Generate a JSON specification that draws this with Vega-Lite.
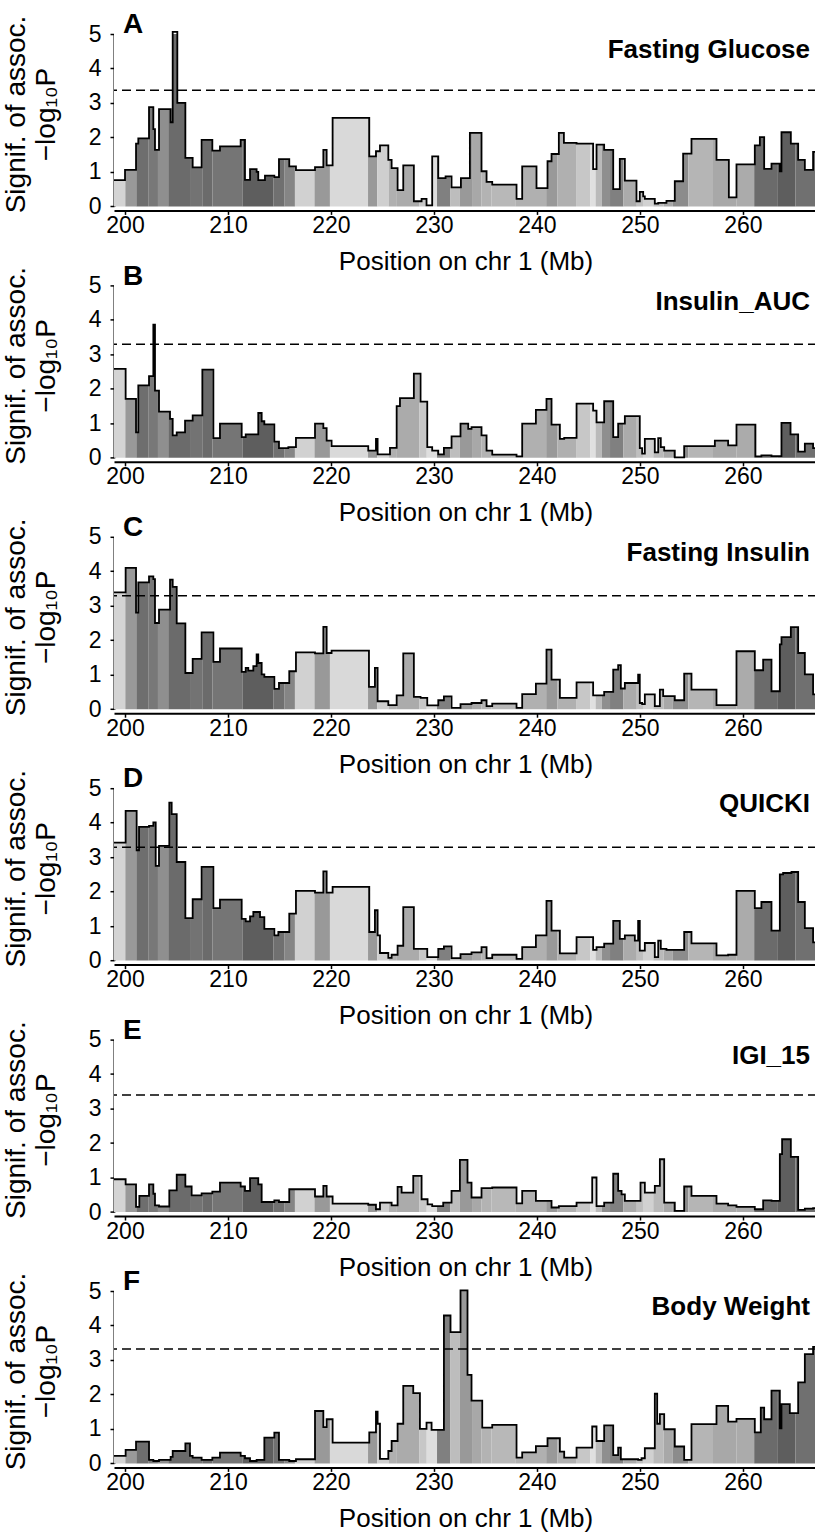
{
  "$schema": "https://vega.github.io/schema/vega-lite/v6.json",
  "background": "white",
  "padding": {"left": 1, "top": 11, "right": 3, "bottom": 3},
  "config": {
    "font": "Liberation Sans",
    "view": {"stroke": null},
    "axis": {"grid": false, "zindex": 1, "labelOverlap": false, "domainColor": "black", "tickColor": "black", "labelColor": "black", "titleColor": "black", "labelFont": "Liberation Sans", "titleFont": "Liberation Sans", "labelFontSize": 23, "titleFontSize": 26, "titleFontWeight": "normal", "tickSize": 4, "domainWidth": 2, "tickWidth": 1.5},
    "axisY": {"titleFontSize": 28},
    "title": {"anchor": "start", "frame": "group", "fontSize": 28, "fontWeight": "bold", "font": "Liberation Sans", "color": "black", "offset": -24, "baseline": "alphabetic", "dx": 9}
  },
  "datasets": {
    "panels": [
      {"p": "A", "trait": "Fasting Glucose", "thr": 3.37},
      {"p": "B", "trait": "Insulin_AUC", "thr": 3.29},
      {"p": "C", "trait": "Fasting Insulin", "thr": 3.29},
      {"p": "D", "trait": "QUICKI", "thr": 3.29},
      {"p": "E", "trait": "IGI_15", "thr": 3.39},
      {"p": "F", "trait": "Body Weight", "thr": 3.32}
    ],
    "bands": [
      {"x": 198.93, "x2": 200.03, "shade": 17}, {"x": 200.03, "x2": 201.1, "shade": 40}, {"x": 201.1, "x2": 202.3, "shade": 57}, {"x": 202.3, "x2": 203.2, "shade": 53}, {"x": 203.2, "x2": 204.2, "shade": 44}, {"x": 204.2, "x2": 206.4, "shade": 58}, {"x": 206.4, "x2": 207.5, "shade": 55}, {"x": 207.5, "x2": 208.5, "shade": 58}, {"x": 208.5, "x2": 211.4, "shade": 54}, {"x": 211.4, "x2": 214.4, "shade": 63}, {"x": 214.4, "x2": 215.5, "shade": 56}, {"x": 215.5, "x2": 216.5, "shade": 48}, {"x": 216.5, "x2": 218.4, "shade": 18}, {"x": 218.4, "x2": 219.9, "shade": 40}, {"x": 219.9, "x2": 223.6, "shade": 15}, {"x": 223.6, "x2": 224.5, "shade": 40}, {"x": 224.5, "x2": 225.6, "shade": 19}, {"x": 225.6, "x2": 226.4, "shade": 31}, {"x": 226.4, "x2": 228.6, "shade": 33}, {"x": 228.6, "x2": 229.3, "shade": 22}, {"x": 229.3, "x2": 230.3, "shade": 13}, {"x": 230.3, "x2": 231.6, "shade": 50}, {"x": 231.6, "x2": 232.5, "shade": 26}, {"x": 232.5, "x2": 233.7, "shade": 40}, {"x": 233.7, "x2": 234.6, "shade": 34}, {"x": 234.6, "x2": 235.6, "shade": 30}, {"x": 235.6, "x2": 237.9, "shade": 28}, {"x": 237.9, "x2": 240.9, "shade": 31}, {"x": 240.9, "x2": 242.0, "shade": 40}, {"x": 242.0, "x2": 243.8, "shade": 31}, {"x": 243.8, "x2": 245.2, "shade": 22}, {"x": 245.2, "x2": 245.7, "shade": 12}, {"x": 245.7, "x2": 246.3, "shade": 27}, {"x": 246.3, "x2": 247.1, "shade": 44}, {"x": 247.1, "x2": 248.4, "shade": 50}, {"x": 248.4, "x2": 249.7, "shade": 33}, {"x": 249.7, "x2": 250.3, "shade": 25}, {"x": 250.3, "x2": 251.3, "shade": 18}, {"x": 251.3, "x2": 252.3, "shade": 27}, {"x": 252.3, "x2": 253.2, "shade": 34}, {"x": 253.2, "x2": 254.7, "shade": 45}, {"x": 254.7, "x2": 257.1, "shade": 29}, {"x": 257.1, "x2": 259.4, "shade": 34}, {"x": 259.4, "x2": 261.1, "shade": 33}, {"x": 261.1, "x2": 263.4, "shade": 58}, {"x": 263.4, "x2": 265.1, "shade": 63}, {"x": 265.1, "x2": 267.2, "shade": 56}
    ],
    "steps": [
      {"p":"A","x":198.93,"y":0.76},{"p":"A","x":200.0,"y":1.06},{"p":"A","x":201.07,"y":1.82},{"p":"A","x":201.29,"y":1.97},{"p":"A","x":202.33,"y":2.88},{"p":"A","x":202.75,"y":2.24},{"p":"A","x":202.91,"y":1.64},{"p":"A","x":203.3,"y":2.82},{"p":"A","x":204.43,"y":2.44},{"p":"A","x":204.63,"y":5.06},{"p":"A","x":205.08,"y":3.0},{"p":"A","x":205.86,"y":1.41},{"p":"A","x":206.57,"y":1.13},{"p":"A","x":207.44,"y":1.93},{"p":"A","x":208.48,"y":1.62},{"p":"A","x":209.22,"y":1.74},{"p":"A","x":211.23,"y":1.93},{"p":"A","x":211.65,"y":0.77},{"p":"A","x":212.14,"y":1.08},{"p":"A","x":212.78,"y":1.0},{"p":"A","x":212.94,"y":0.76},{"p":"A","x":213.59,"y":0.89},{"p":"A","x":214.5,"y":0.85},{"p":"A","x":214.95,"y":1.37},{"p":"A","x":215.95,"y":1.16},{"p":"A","x":216.6,"y":1.05},{"p":"A","x":218.45,"y":1.14},{"p":"A","x":219.26,"y":1.64},{"p":"A","x":219.58,"y":1.19},{"p":"A","x":220.16,"y":2.57},{"p":"A","x":223.72,"y":1.45},{"p":"A","x":224.37,"y":1.6},{"p":"A","x":224.76,"y":1.77},{"p":"A","x":225.57,"y":1.35},{"p":"A","x":225.89,"y":1.11},{"p":"A","x":226.47,"y":0.47},{"p":"A","x":227.02,"y":1.19},{"p":"A","x":228.05,"y":0.15},{"p":"A","x":228.8,"y":0.22},{"p":"A","x":229.28,"y":0.03},{"p":"A","x":229.83,"y":1.45},{"p":"A","x":230.42,"y":0.82},{"p":"A","x":231.13,"y":0.87},{"p":"A","x":231.71,"y":0.55},{"p":"A","x":232.62,"y":0.82},{"p":"A","x":233.49,"y":2.13},{"p":"A","x":234.62,"y":1.02},{"p":"A","x":235.11,"y":0.71},{"p":"A","x":235.66,"y":0.63},{"p":"A","x":238.02,"y":0.22},{"p":"A","x":238.57,"y":1.16},{"p":"A","x":239.96,"y":0.53},{"p":"A","x":241.03,"y":1.31},{"p":"A","x":241.42,"y":1.52},{"p":"A","x":242.13,"y":2.13},{"p":"A","x":242.62,"y":1.84},{"p":"A","x":243.85,"y":1.82},{"p":"A","x":245.46,"y":1.08},{"p":"A","x":245.79,"y":1.79},{"p":"A","x":246.53,"y":1.64},{"p":"A","x":247.41,"y":0.5},{"p":"A","x":248.05,"y":1.38},{"p":"A","x":248.54,"y":0.75},{"p":"A","x":249.67,"y":0.15},{"p":"A","x":249.99,"y":0.42},{"p":"A","x":250.32,"y":0.29},{"p":"A","x":250.48,"y":0.22},{"p":"A","x":251.45,"y":0.08},{"p":"A","x":251.78,"y":0.1},{"p":"A","x":252.58,"y":0.16},{"p":"A","x":253.39,"y":0.73},{"p":"A","x":254.2,"y":1.53},{"p":"A","x":255.01,"y":1.96},{"p":"A","x":257.44,"y":1.35},{"p":"A","x":258.64,"y":0.26},{"p":"A","x":259.38,"y":1.22},{"p":"A","x":261.16,"y":1.77},{"p":"A","x":261.65,"y":2.01},{"p":"A","x":262.07,"y":1.09},{"p":"A","x":262.78,"y":1.24},{"p":"A","x":263.59,"y":1.02},{"p":"A","x":263.75,"y":2.15},{"p":"A","x":264.66,"y":1.82},{"p":"A","x":265.37,"y":1.35},{"p":"A","x":266.02,"y":1.06},{"p":"A","x":266.82,"y":1.58},{"p":"A","x":267.2,"y":1.58},
      {"p":"B","x":198.93,"y":2.58},{"p":"B","x":200.06,"y":1.71},{"p":"B","x":201.07,"y":0.74},{"p":"B","x":201.29,"y":2.1},{"p":"B","x":202.33,"y":2.37},{"p":"B","x":202.75,"y":3.86},{"p":"B","x":202.91,"y":1.95},{"p":"B","x":203.3,"y":1.34},{"p":"B","x":204.37,"y":1.13},{"p":"B","x":204.63,"y":0.65},{"p":"B","x":205.02,"y":0.74},{"p":"B","x":205.83,"y":1.08},{"p":"B","x":206.57,"y":1.23},{"p":"B","x":207.51,"y":2.56},{"p":"B","x":208.58,"y":0.57},{"p":"B","x":209.22,"y":0.99},{"p":"B","x":211.33,"y":0.6},{"p":"B","x":211.72,"y":0.68},{"p":"B","x":212.94,"y":1.3},{"p":"B","x":213.27,"y":1.06},{"p":"B","x":213.53,"y":0.97},{"p":"B","x":214.5,"y":0.47},{"p":"B","x":214.95,"y":0.28},{"p":"B","x":215.86,"y":0.31},{"p":"B","x":216.6,"y":0.58},{"p":"B","x":218.45,"y":0.99},{"p":"B","x":219.26,"y":0.86},{"p":"B","x":219.58,"y":0.5},{"p":"B","x":220.06,"y":0.34},{"p":"B","x":223.62,"y":0.21},{"p":"B","x":224.37,"y":0.55},{"p":"B","x":224.53,"y":0.1},{"p":"B","x":225.73,"y":0.29},{"p":"B","x":226.38,"y":1.5},{"p":"B","x":226.7,"y":1.73},{"p":"B","x":228.05,"y":2.44},{"p":"B","x":228.7,"y":1.63},{"p":"B","x":229.35,"y":0.31},{"p":"B","x":229.83,"y":0.21},{"p":"B","x":230.42,"y":0.1},{"p":"B","x":230.97,"y":0.29},{"p":"B","x":231.71,"y":0.62},{"p":"B","x":232.58,"y":0.99},{"p":"B","x":233.33,"y":0.84},{"p":"B","x":233.65,"y":0.89},{"p":"B","x":234.62,"y":0.65},{"p":"B","x":235.11,"y":0.21},{"p":"B","x":235.66,"y":0.09},{"p":"B","x":238.02,"y":0.04},{"p":"B","x":238.57,"y":0.99},{"p":"B","x":239.9,"y":1.39},{"p":"B","x":240.93,"y":1.71},{"p":"B","x":241.42,"y":0.96},{"p":"B","x":242.23,"y":0.55},{"p":"B","x":242.65,"y":0.58},{"p":"B","x":243.85,"y":1.57},{"p":"B","x":245.46,"y":1.37},{"p":"B","x":245.79,"y":1.03},{"p":"B","x":246.53,"y":1.64},{"p":"B","x":247.41,"y":0.6},{"p":"B","x":247.89,"y":0.99},{"p":"B","x":248.54,"y":1.21},{"p":"B","x":249.99,"y":0.28},{"p":"B","x":250.22,"y":0.12},{"p":"B","x":250.48,"y":0.55},{"p":"B","x":251.45,"y":0.16},{"p":"B","x":251.78,"y":0.57},{"p":"B","x":252.03,"y":0.31},{"p":"B","x":252.36,"y":0.21},{"p":"B","x":253.39,"y":0.01},{"p":"B","x":254.3,"y":0.34},{"p":"B","x":257.28,"y":0.5},{"p":"B","x":258.57,"y":0.36},{"p":"B","x":259.38,"y":0.96},{"p":"B","x":261.22,"y":0.04},{"p":"B","x":261.8,"y":0.07},{"p":"B","x":262.78,"y":0.05},{"p":"B","x":263.75,"y":1.01},{"p":"B","x":264.63,"y":0.68},{"p":"B","x":265.37,"y":0.18},{"p":"B","x":266.02,"y":0.41},{"p":"B","x":266.82,"y":0.28},{"p":"B","x":267.2,"y":0.28},
      {"p":"C","x":198.93,"y":3.39},{"p":"C","x":200.06,"y":4.1},{"p":"C","x":201.07,"y":2.8},{"p":"C","x":201.29,"y":3.68},{"p":"C","x":202.33,"y":3.85},{"p":"C","x":202.75,"y":3.77},{"p":"C","x":202.91,"y":2.5},{"p":"C","x":203.3,"y":2.89},{"p":"C","x":204.37,"y":3.76},{"p":"C","x":204.63,"y":3.55},{"p":"C","x":205.02,"y":2.49},{"p":"C","x":205.86,"y":1.05},{"p":"C","x":206.57,"y":1.46},{"p":"C","x":207.44,"y":2.23},{"p":"C","x":208.58,"y":1.37},{"p":"C","x":209.22,"y":1.76},{"p":"C","x":211.33,"y":1.08},{"p":"C","x":211.72,"y":1.2},{"p":"C","x":211.97,"y":1.12},{"p":"C","x":212.46,"y":1.25},{"p":"C","x":212.78,"y":1.59},{"p":"C","x":212.94,"y":1.34},{"p":"C","x":213.27,"y":1.01},{"p":"C","x":213.53,"y":0.94},{"p":"C","x":214.5,"y":0.59},{"p":"C","x":214.95,"y":0.76},{"p":"C","x":215.95,"y":1.1},{"p":"C","x":216.6,"y":1.65},{"p":"C","x":218.45,"y":1.62},{"p":"C","x":219.26,"y":2.39},{"p":"C","x":219.58,"y":1.63},{"p":"C","x":220.06,"y":1.7},{"p":"C","x":223.69,"y":0.65},{"p":"C","x":224.27,"y":1.2},{"p":"C","x":224.53,"y":0.23},{"p":"C","x":225.57,"y":0.12},{"p":"C","x":226.38,"y":0.4},{"p":"C","x":227.02,"y":1.62},{"p":"C","x":228.05,"y":0.36},{"p":"C","x":228.7,"y":0.33},{"p":"C","x":229.35,"y":0.11},{"p":"C","x":230.42,"y":0.26},{"p":"C","x":230.97,"y":0.37},{"p":"C","x":231.71,"y":0.04},{"p":"C","x":232.58,"y":0.15},{"p":"C","x":233.65,"y":0.18},{"p":"C","x":234.62,"y":0.26},{"p":"C","x":235.11,"y":0.09},{"p":"C","x":235.66,"y":0.16},{"p":"C","x":238.02,"y":0.04},{"p":"C","x":238.57,"y":0.44},{"p":"C","x":239.9,"y":0.74},{"p":"C","x":240.93,"y":1.73},{"p":"C","x":241.42,"y":0.86},{"p":"C","x":242.23,"y":0.33},{"p":"C","x":243.85,"y":0.78},{"p":"C","x":245.46,"y":0.4},{"p":"C","x":246.53,"y":0.5},{"p":"C","x":247.41,"y":1.15},{"p":"C","x":247.89,"y":1.28},{"p":"C","x":248.15,"y":0.6},{"p":"C","x":248.54,"y":0.76},{"p":"C","x":249.83,"y":1.0},{"p":"C","x":249.99,"y":0.18},{"p":"C","x":250.22,"y":0.15},{"p":"C","x":250.48,"y":0.43},{"p":"C","x":251.45,"y":0.09},{"p":"C","x":251.94,"y":0.57},{"p":"C","x":252.26,"y":0.38},{"p":"C","x":253.39,"y":0.26},{"p":"C","x":254.3,"y":1.03},{"p":"C","x":255.01,"y":0.57},{"p":"C","x":257.44,"y":0.12},{"p":"C","x":259.38,"y":1.68},{"p":"C","x":261.16,"y":1.13},{"p":"C","x":261.97,"y":1.44},{"p":"C","x":262.78,"y":0.52},{"p":"C","x":263.59,"y":1.88},{"p":"C","x":263.75,"y":2.09},{"p":"C","x":264.66,"y":2.38},{"p":"C","x":265.37,"y":1.63},{"p":"C","x":266.02,"y":1.01},{"p":"C","x":266.82,"y":0.43},{"p":"C","x":267.2,"y":0.43},
      {"p":"D","x":198.93,"y":3.42},{"p":"D","x":200.06,"y":4.34},{"p":"D","x":201.13,"y":3.2},{"p":"D","x":201.36,"y":3.88},{"p":"D","x":202.33,"y":3.91},{"p":"D","x":202.75,"y":4.01},{"p":"D","x":202.98,"y":2.75},{"p":"D","x":203.3,"y":3.33},{"p":"D","x":204.3,"y":4.58},{"p":"D","x":204.53,"y":4.25},{"p":"D","x":205.02,"y":2.86},{"p":"D","x":205.86,"y":1.23},{"p":"D","x":206.57,"y":1.78},{"p":"D","x":207.44,"y":2.72},{"p":"D","x":208.58,"y":1.52},{"p":"D","x":209.22,"y":1.77},{"p":"D","x":211.33,"y":1.21},{"p":"D","x":211.72,"y":1.14},{"p":"D","x":212.14,"y":1.28},{"p":"D","x":212.46,"y":1.41},{"p":"D","x":213.11,"y":1.26},{"p":"D","x":213.53,"y":0.92},{"p":"D","x":214.5,"y":0.73},{"p":"D","x":214.89,"y":0.83},{"p":"D","x":215.95,"y":1.36},{"p":"D","x":216.6,"y":2.02},{"p":"D","x":218.45,"y":1.97},{"p":"D","x":219.26,"y":2.59},{"p":"D","x":219.58,"y":1.97},{"p":"D","x":220.16,"y":2.14},{"p":"D","x":223.72,"y":0.83},{"p":"D","x":224.27,"y":1.46},{"p":"D","x":224.53,"y":0.73},{"p":"D","x":224.76,"y":0.22},{"p":"D","x":225.57,"y":0.08},{"p":"D","x":225.89,"y":0.17},{"p":"D","x":226.47,"y":0.43},{"p":"D","x":227.02,"y":1.55},{"p":"D","x":228.05,"y":0.34},{"p":"D","x":229.35,"y":0.1},{"p":"D","x":230.42,"y":0.34},{"p":"D","x":230.97,"y":0.41},{"p":"D","x":231.71,"y":0.07},{"p":"D","x":232.58,"y":0.19},{"p":"D","x":233.65,"y":0.24},{"p":"D","x":234.62,"y":0.39},{"p":"D","x":235.11,"y":0.07},{"p":"D","x":235.66,"y":0.17},{"p":"D","x":238.02,"y":0.05},{"p":"D","x":238.57,"y":0.39},{"p":"D","x":239.9,"y":0.73},{"p":"D","x":240.93,"y":1.73},{"p":"D","x":241.42,"y":0.87},{"p":"D","x":242.23,"y":0.21},{"p":"D","x":243.85,"y":0.68},{"p":"D","x":245.46,"y":0.31},{"p":"D","x":245.79,"y":0.39},{"p":"D","x":246.53,"y":0.49},{"p":"D","x":247.41,"y":1.15},{"p":"D","x":248.05,"y":0.63},{"p":"D","x":248.54,"y":0.73},{"p":"D","x":249.51,"y":0.58},{"p":"D","x":249.83,"y":1.15},{"p":"D","x":249.99,"y":0.29},{"p":"D","x":250.48,"y":0.51},{"p":"D","x":251.45,"y":0.1},{"p":"D","x":251.78,"y":0.58},{"p":"D","x":252.03,"y":0.34},{"p":"D","x":252.58,"y":0.31},{"p":"D","x":254.3,"y":0.83},{"p":"D","x":255.01,"y":0.5},{"p":"D","x":257.44,"y":0.15},{"p":"D","x":258.57,"y":0.17},{"p":"D","x":259.38,"y":2.02},{"p":"D","x":261.16,"y":1.52},{"p":"D","x":261.8,"y":1.7},{"p":"D","x":262.78,"y":0.87},{"p":"D","x":263.59,"y":2.5},{"p":"D","x":263.91,"y":2.54},{"p":"D","x":264.72,"y":2.57},{"p":"D","x":265.37,"y":1.7},{"p":"D","x":266.02,"y":0.94},{"p":"D","x":266.82,"y":0.53},{"p":"D","x":267.2,"y":0.53},
      {"p":"E","x":198.93,"y":0.95},{"p":"E","x":200.06,"y":0.8},{"p":"E","x":201.07,"y":0.15},{"p":"E","x":201.39,"y":0.47},{"p":"E","x":202.33,"y":0.8},{"p":"E","x":202.75,"y":0.53},{"p":"E","x":202.91,"y":0.19},{"p":"E","x":203.3,"y":0.16},{"p":"E","x":204.3,"y":0.63},{"p":"E","x":205.02,"y":1.08},{"p":"E","x":205.86,"y":0.74},{"p":"E","x":206.47,"y":0.48},{"p":"E","x":207.44,"y":0.54},{"p":"E","x":208.48,"y":0.59},{"p":"E","x":209.22,"y":0.85},{"p":"E","x":211.23,"y":0.74},{"p":"E","x":211.65,"y":0.61},{"p":"E","x":212.14,"y":0.98},{"p":"E","x":212.94,"y":0.8},{"p":"E","x":213.27,"y":0.29},{"p":"E","x":214.5,"y":0.34},{"p":"E","x":214.95,"y":0.29},{"p":"E","x":215.95,"y":0.66},{"p":"E","x":218.45,"y":0.45},{"p":"E","x":219.26,"y":0.76},{"p":"E","x":219.58,"y":0.45},{"p":"E","x":220.16,"y":0.24},{"p":"E","x":223.62,"y":0.21},{"p":"E","x":224.37,"y":0.08},{"p":"E","x":224.76,"y":0.27},{"p":"E","x":225.89,"y":0.19},{"p":"E","x":226.47,"y":0.73},{"p":"E","x":226.86,"y":0.56},{"p":"E","x":227.99,"y":1.05},{"p":"E","x":228.8,"y":0.37},{"p":"E","x":229.38,"y":0.22},{"p":"E","x":229.83,"y":0.17},{"p":"E","x":230.9,"y":0.27},{"p":"E","x":231.71,"y":0.61},{"p":"E","x":232.52,"y":1.51},{"p":"E","x":233.26,"y":0.85},{"p":"E","x":233.65,"y":0.42},{"p":"E","x":234.62,"y":0.69},{"p":"E","x":235.66,"y":0.71},{"p":"E","x":238.02,"y":0.25},{"p":"E","x":238.57,"y":0.61},{"p":"E","x":239.9,"y":0.32},{"p":"E","x":241.42,"y":0.13},{"p":"E","x":242.13,"y":0.17},{"p":"E","x":243.85,"y":0.27},{"p":"E","x":245.37,"y":1.0},{"p":"E","x":245.79,"y":0.17},{"p":"E","x":246.53,"y":0.27},{"p":"E","x":247.41,"y":1.11},{"p":"E","x":247.89,"y":0.61},{"p":"E","x":248.22,"y":0.51},{"p":"E","x":248.54,"y":0.32},{"p":"E","x":250.06,"y":0.85},{"p":"E","x":250.48,"y":0.56},{"p":"E","x":251.45,"y":0.76},{"p":"E","x":251.94,"y":1.53},{"p":"E","x":252.36,"y":0.27},{"p":"E","x":253.39,"y":0.03},{"p":"E","x":254.3,"y":0.74},{"p":"E","x":255.01,"y":0.47},{"p":"E","x":257.44,"y":0.24},{"p":"E","x":258.57,"y":0.19},{"p":"E","x":259.38,"y":0.15},{"p":"E","x":261.16,"y":0.08},{"p":"E","x":261.97,"y":0.34},{"p":"E","x":262.78,"y":0.32},{"p":"E","x":263.59,"y":1.68},{"p":"E","x":263.81,"y":2.11},{"p":"E","x":264.66,"y":1.6},{"p":"E","x":265.37,"y":0.06},{"p":"E","x":266.02,"y":0.1},{"p":"E","x":266.82,"y":0.11},{"p":"E","x":267.2,"y":0.11},
      {"p":"F","x":198.93,"y":0.22},{"p":"F","x":200.06,"y":0.39},{"p":"F","x":201.07,"y":0.63},{"p":"F","x":202.33,"y":0.1},{"p":"F","x":202.75,"y":0.07},{"p":"F","x":203.3,"y":0.1},{"p":"F","x":204.43,"y":0.19},{"p":"F","x":204.63,"y":0.36},{"p":"F","x":205.86,"y":0.58},{"p":"F","x":206.31,"y":0.22},{"p":"F","x":206.57,"y":0.17},{"p":"F","x":207.44,"y":0.1},{"p":"F","x":208.48,"y":0.17},{"p":"F","x":209.22,"y":0.31},{"p":"F","x":211.23,"y":0.22},{"p":"F","x":211.65,"y":0.15},{"p":"F","x":212.14,"y":0.07},{"p":"F","x":212.78,"y":0.1},{"p":"F","x":213.53,"y":0.75},{"p":"F","x":214.5,"y":0.89},{"p":"F","x":214.95,"y":0.1},{"p":"F","x":215.95,"y":0.07},{"p":"F","x":216.6,"y":0.12},{"p":"F","x":218.45,"y":1.52},{"p":"F","x":219.26,"y":1.05},{"p":"F","x":219.58,"y":1.28},{"p":"F","x":220.16,"y":0.6},{"p":"F","x":223.72,"y":0.9},{"p":"F","x":224.37,"y":1.5},{"p":"F","x":224.53,"y":1.15},{"p":"F","x":224.76,"y":0.13},{"p":"F","x":225.57,"y":0.36},{"p":"F","x":225.89,"y":0.65},{"p":"F","x":226.47,"y":1.15},{"p":"F","x":227.02,"y":2.25},{"p":"F","x":227.99,"y":2.04},{"p":"F","x":228.64,"y":1.0},{"p":"F","x":229.28,"y":1.18},{"p":"F","x":229.77,"y":0.97},{"p":"F","x":230.97,"y":4.29},{"p":"F","x":231.61,"y":3.81},{"p":"F","x":232.58,"y":5.02},{"p":"F","x":233.26,"y":2.57},{"p":"F","x":233.65,"y":1.82},{"p":"F","x":234.69,"y":1.04},{"p":"F","x":235.66,"y":1.12},{"p":"F","x":238.02,"y":0.17},{"p":"F","x":238.57,"y":0.32},{"p":"F","x":239.9,"y":0.5},{"p":"F","x":241.03,"y":0.73},{"p":"F","x":242.23,"y":0.34},{"p":"F","x":242.65,"y":0.17},{"p":"F","x":243.85,"y":0.46},{"p":"F","x":245.37,"y":1.07},{"p":"F","x":245.79,"y":0.65},{"p":"F","x":246.53,"y":1.1},{"p":"F","x":247.41,"y":0.24},{"p":"F","x":247.89,"y":0.46},{"p":"F","x":248.15,"y":0.12},{"p":"F","x":249.83,"y":0.1},{"p":"F","x":250.16,"y":0.15},{"p":"F","x":250.48,"y":0.44},{"p":"F","x":251.45,"y":2.02},{"p":"F","x":251.68,"y":1.15},{"p":"F","x":251.94,"y":1.43},{"p":"F","x":252.36,"y":0.99},{"p":"F","x":253.39,"y":0.49},{"p":"F","x":254.3,"y":0.1},{"p":"F","x":255.01,"y":1.14},{"p":"F","x":257.44,"y":1.67},{"p":"F","x":258.57,"y":1.21},{"p":"F","x":259.38,"y":1.29},{"p":"F","x":261.16,"y":0.9},{"p":"F","x":261.74,"y":1.62},{"p":"F","x":262.07,"y":1.28},{"p":"F","x":262.78,"y":2.11},{"p":"F","x":263.59,"y":1.02},{"p":"F","x":263.75,"y":1.72},{"p":"F","x":264.56,"y":1.46},{"p":"F","x":265.37,"y":2.35},{"p":"F","x":266.02,"y":3.17},{"p":"F","x":266.82,"y":3.38},{"p":"F","x":267.2,"y":3.38}
    ]
  },
  "spacing": 78.4,
  "bounds": "flush",
  "vconcat": [
    {"title": "A", "width": 703, "height": 172.4, "layer": [
      {"data": {"name": "bands"}, "mark": {"type": "rect", "strokeWidth": 0}, "encoding": {
        "x": {"field": "x", "type": "quantitative", "scale": {"domain": [198.93, 267.2], "nice": false, "zero": false}, "axis": {"title": "Position on chr 1 (Mb)", "values": [200, 210, 220, 230, 240, 250, 260], "format": "d", "labelOverlap": false, "offset": 4, "labelPadding": 0, "titleY": 59, "titleBaseline": "alphabetic"}},
        "x2": {"field": "x2"},
        "y": {"datum": 0, "type": "quantitative", "scale": {"domain": [0, 5], "nice": false}, "axis": {"title": ["Signif. of assoc.", "−log₁₀P"], "values": [0, 1, 2, 3, 4, 5], "tickCount": 6, "format": "d", "labelOverlap": false, "labelPadding": 9, "titleX": -90, "titleY": 80, "titleAngle": -90, "titleAlign": "center", "titleBaseline": "alphabetic", "titleLineHeight": 30}},
        "y2": {"datum": 5},
        "color": {"field": "shade", "type": "quantitative", "scale": {"domain": [0, 100], "range": ["#ffffff", "#000000"], "interpolate": "rgb"}, "legend": null}}},
      {"data": {"name": "steps"}, "transform": [{"filter": "datum.p === 'A'"}], "mark": {"type": "area", "interpolate": "step-after", "color": "white"}, "encoding": {"x": {"field": "x", "type": "quantitative"}, "y": {"field": "y", "type": "quantitative"}, "y2": {"datum": 5.04}}},
      {"data": {"name": "steps"}, "transform": [{"filter": "datum.p === 'A'"}], "mark": {"type": "line", "interpolate": "step-after", "color": "black", "strokeWidth": 1.8, "clip": false}, "encoding": {"x": {"field": "x", "type": "quantitative"}, "y": {"field": "y", "type": "quantitative"}}},
      {"data": {"name": "panels"}, "transform": [{"filter": "datum.p === 'A'"}], "mark": {"type": "rule", "color": "black", "strokeWidth": 1.5, "strokeDash": [9, 5]}, "encoding": {"y": {"field": "thr", "type": "quantitative"}}},
      {"data": {"name": "panels"}, "transform": [{"filter": "datum.p === 'A'"}], "mark": {"type": "text", "align": "right", "baseline": "alphabetic", "fontSize": 26, "fontWeight": "bold", "font": "Liberation Sans", "dx": -7, "color": "black"}, "encoding": {"x": {"datum": 267.2, "type": "quantitative"}, "y": {"datum": 4.3, "type": "quantitative"}, "text": {"field": "trait"}}}
    ]},
    {"title": "B", "width": 703, "height": 172.4, "layer": [
      {"data": {"name": "bands"}, "mark": {"type": "rect", "strokeWidth": 0}, "encoding": {
        "x": {"field": "x", "type": "quantitative", "scale": {"domain": [198.93, 267.2], "nice": false, "zero": false}, "axis": {"title": "Position on chr 1 (Mb)", "values": [200, 210, 220, 230, 240, 250, 260], "format": "d", "labelOverlap": false, "offset": 4, "labelPadding": 0, "titleY": 59, "titleBaseline": "alphabetic"}},
        "x2": {"field": "x2"},
        "y": {"datum": 0, "type": "quantitative", "scale": {"domain": [0, 5], "nice": false}, "axis": {"title": ["Signif. of assoc.", "−log₁₀P"], "values": [0, 1, 2, 3, 4, 5], "tickCount": 6, "format": "d", "labelOverlap": false, "labelPadding": 9, "titleX": -90, "titleY": 80, "titleAngle": -90, "titleAlign": "center", "titleBaseline": "alphabetic", "titleLineHeight": 30}},
        "y2": {"datum": 5},
        "color": {"field": "shade", "type": "quantitative", "scale": {"domain": [0, 100], "range": ["#ffffff", "#000000"], "interpolate": "rgb"}, "legend": null}}},
      {"data": {"name": "steps"}, "transform": [{"filter": "datum.p === 'B'"}], "mark": {"type": "area", "interpolate": "step-after", "color": "white"}, "encoding": {"x": {"field": "x", "type": "quantitative"}, "y": {"field": "y", "type": "quantitative"}, "y2": {"datum": 5.04}}},
      {"data": {"name": "steps"}, "transform": [{"filter": "datum.p === 'B'"}], "mark": {"type": "line", "interpolate": "step-after", "color": "black", "strokeWidth": 1.8, "clip": false}, "encoding": {"x": {"field": "x", "type": "quantitative"}, "y": {"field": "y", "type": "quantitative"}}},
      {"data": {"name": "panels"}, "transform": [{"filter": "datum.p === 'B'"}], "mark": {"type": "rule", "color": "black", "strokeWidth": 1.5, "strokeDash": [9, 5]}, "encoding": {"y": {"field": "thr", "type": "quantitative"}}},
      {"data": {"name": "panels"}, "transform": [{"filter": "datum.p === 'B'"}], "mark": {"type": "text", "align": "right", "baseline": "alphabetic", "fontSize": 26, "fontWeight": "bold", "font": "Liberation Sans", "dx": -7, "color": "black"}, "encoding": {"x": {"datum": 267.2, "type": "quantitative"}, "y": {"datum": 4.3, "type": "quantitative"}, "text": {"field": "trait"}}}
    ]},
    {"title": "C", "width": 703, "height": 172.4, "layer": [
      {"data": {"name": "bands"}, "mark": {"type": "rect", "strokeWidth": 0}, "encoding": {
        "x": {"field": "x", "type": "quantitative", "scale": {"domain": [198.93, 267.2], "nice": false, "zero": false}, "axis": {"title": "Position on chr 1 (Mb)", "values": [200, 210, 220, 230, 240, 250, 260], "format": "d", "labelOverlap": false, "offset": 4, "labelPadding": 0, "titleY": 59, "titleBaseline": "alphabetic"}},
        "x2": {"field": "x2"},
        "y": {"datum": 0, "type": "quantitative", "scale": {"domain": [0, 5], "nice": false}, "axis": {"title": ["Signif. of assoc.", "−log₁₀P"], "values": [0, 1, 2, 3, 4, 5], "tickCount": 6, "format": "d", "labelOverlap": false, "labelPadding": 9, "titleX": -90, "titleY": 80, "titleAngle": -90, "titleAlign": "center", "titleBaseline": "alphabetic", "titleLineHeight": 30}},
        "y2": {"datum": 5},
        "color": {"field": "shade", "type": "quantitative", "scale": {"domain": [0, 100], "range": ["#ffffff", "#000000"], "interpolate": "rgb"}, "legend": null}}},
      {"data": {"name": "steps"}, "transform": [{"filter": "datum.p === 'C'"}], "mark": {"type": "area", "interpolate": "step-after", "color": "white"}, "encoding": {"x": {"field": "x", "type": "quantitative"}, "y": {"field": "y", "type": "quantitative"}, "y2": {"datum": 5.04}}},
      {"data": {"name": "steps"}, "transform": [{"filter": "datum.p === 'C'"}], "mark": {"type": "line", "interpolate": "step-after", "color": "black", "strokeWidth": 1.8, "clip": false}, "encoding": {"x": {"field": "x", "type": "quantitative"}, "y": {"field": "y", "type": "quantitative"}}},
      {"data": {"name": "panels"}, "transform": [{"filter": "datum.p === 'C'"}], "mark": {"type": "rule", "color": "black", "strokeWidth": 1.5, "strokeDash": [9, 5]}, "encoding": {"y": {"field": "thr", "type": "quantitative"}}},
      {"data": {"name": "panels"}, "transform": [{"filter": "datum.p === 'C'"}], "mark": {"type": "text", "align": "right", "baseline": "alphabetic", "fontSize": 26, "fontWeight": "bold", "font": "Liberation Sans", "dx": -7, "color": "black"}, "encoding": {"x": {"datum": 267.2, "type": "quantitative"}, "y": {"datum": 4.3, "type": "quantitative"}, "text": {"field": "trait"}}}
    ]},
    {"title": "D", "width": 703, "height": 172.4, "layer": [
      {"data": {"name": "bands"}, "mark": {"type": "rect", "strokeWidth": 0}, "encoding": {
        "x": {"field": "x", "type": "quantitative", "scale": {"domain": [198.93, 267.2], "nice": false, "zero": false}, "axis": {"title": "Position on chr 1 (Mb)", "values": [200, 210, 220, 230, 240, 250, 260], "format": "d", "labelOverlap": false, "offset": 4, "labelPadding": 0, "titleY": 59, "titleBaseline": "alphabetic"}},
        "x2": {"field": "x2"},
        "y": {"datum": 0, "type": "quantitative", "scale": {"domain": [0, 5], "nice": false}, "axis": {"title": ["Signif. of assoc.", "−log₁₀P"], "values": [0, 1, 2, 3, 4, 5], "tickCount": 6, "format": "d", "labelOverlap": false, "labelPadding": 9, "titleX": -90, "titleY": 80, "titleAngle": -90, "titleAlign": "center", "titleBaseline": "alphabetic", "titleLineHeight": 30}},
        "y2": {"datum": 5},
        "color": {"field": "shade", "type": "quantitative", "scale": {"domain": [0, 100], "range": ["#ffffff", "#000000"], "interpolate": "rgb"}, "legend": null}}},
      {"data": {"name": "steps"}, "transform": [{"filter": "datum.p === 'D'"}], "mark": {"type": "area", "interpolate": "step-after", "color": "white"}, "encoding": {"x": {"field": "x", "type": "quantitative"}, "y": {"field": "y", "type": "quantitative"}, "y2": {"datum": 5.04}}},
      {"data": {"name": "steps"}, "transform": [{"filter": "datum.p === 'D'"}], "mark": {"type": "line", "interpolate": "step-after", "color": "black", "strokeWidth": 1.8, "clip": false}, "encoding": {"x": {"field": "x", "type": "quantitative"}, "y": {"field": "y", "type": "quantitative"}}},
      {"data": {"name": "panels"}, "transform": [{"filter": "datum.p === 'D'"}], "mark": {"type": "rule", "color": "black", "strokeWidth": 1.5, "strokeDash": [9, 5]}, "encoding": {"y": {"field": "thr", "type": "quantitative"}}},
      {"data": {"name": "panels"}, "transform": [{"filter": "datum.p === 'D'"}], "mark": {"type": "text", "align": "right", "baseline": "alphabetic", "fontSize": 26, "fontWeight": "bold", "font": "Liberation Sans", "dx": -7, "color": "black"}, "encoding": {"x": {"datum": 267.2, "type": "quantitative"}, "y": {"datum": 4.3, "type": "quantitative"}, "text": {"field": "trait"}}}
    ]},
    {"title": "E", "width": 703, "height": 172.4, "layer": [
      {"data": {"name": "bands"}, "mark": {"type": "rect", "strokeWidth": 0}, "encoding": {
        "x": {"field": "x", "type": "quantitative", "scale": {"domain": [198.93, 267.2], "nice": false, "zero": false}, "axis": {"title": "Position on chr 1 (Mb)", "values": [200, 210, 220, 230, 240, 250, 260], "format": "d", "labelOverlap": false, "offset": 4, "labelPadding": 0, "titleY": 59, "titleBaseline": "alphabetic"}},
        "x2": {"field": "x2"},
        "y": {"datum": 0, "type": "quantitative", "scale": {"domain": [0, 5], "nice": false}, "axis": {"title": ["Signif. of assoc.", "−log₁₀P"], "values": [0, 1, 2, 3, 4, 5], "tickCount": 6, "format": "d", "labelOverlap": false, "labelPadding": 9, "titleX": -90, "titleY": 80, "titleAngle": -90, "titleAlign": "center", "titleBaseline": "alphabetic", "titleLineHeight": 30}},
        "y2": {"datum": 5},
        "color": {"field": "shade", "type": "quantitative", "scale": {"domain": [0, 100], "range": ["#ffffff", "#000000"], "interpolate": "rgb"}, "legend": null}}},
      {"data": {"name": "steps"}, "transform": [{"filter": "datum.p === 'E'"}], "mark": {"type": "area", "interpolate": "step-after", "color": "white"}, "encoding": {"x": {"field": "x", "type": "quantitative"}, "y": {"field": "y", "type": "quantitative"}, "y2": {"datum": 5.04}}},
      {"data": {"name": "steps"}, "transform": [{"filter": "datum.p === 'E'"}], "mark": {"type": "line", "interpolate": "step-after", "color": "black", "strokeWidth": 1.8, "clip": false}, "encoding": {"x": {"field": "x", "type": "quantitative"}, "y": {"field": "y", "type": "quantitative"}}},
      {"data": {"name": "panels"}, "transform": [{"filter": "datum.p === 'E'"}], "mark": {"type": "rule", "color": "black", "strokeWidth": 1.5, "strokeDash": [9, 5]}, "encoding": {"y": {"field": "thr", "type": "quantitative"}}},
      {"data": {"name": "panels"}, "transform": [{"filter": "datum.p === 'E'"}], "mark": {"type": "text", "align": "right", "baseline": "alphabetic", "fontSize": 26, "fontWeight": "bold", "font": "Liberation Sans", "dx": -7, "color": "black"}, "encoding": {"x": {"datum": 267.2, "type": "quantitative"}, "y": {"datum": 4.3, "type": "quantitative"}, "text": {"field": "trait"}}}
    ]},
    {"title": "F", "width": 703, "height": 172.4, "layer": [
      {"data": {"name": "bands"}, "mark": {"type": "rect", "strokeWidth": 0}, "encoding": {
        "x": {"field": "x", "type": "quantitative", "scale": {"domain": [198.93, 267.2], "nice": false, "zero": false}, "axis": {"title": "Position on chr 1 (Mb)", "values": [200, 210, 220, 230, 240, 250, 260], "format": "d", "labelOverlap": false, "offset": 4, "labelPadding": 0, "titleY": 59, "titleBaseline": "alphabetic"}},
        "x2": {"field": "x2"},
        "y": {"datum": 0, "type": "quantitative", "scale": {"domain": [0, 5], "nice": false}, "axis": {"title": ["Signif. of assoc.", "−log₁₀P"], "values": [0, 1, 2, 3, 4, 5], "tickCount": 6, "format": "d", "labelOverlap": false, "labelPadding": 9, "titleX": -90, "titleY": 80, "titleAngle": -90, "titleAlign": "center", "titleBaseline": "alphabetic", "titleLineHeight": 30}},
        "y2": {"datum": 5},
        "color": {"field": "shade", "type": "quantitative", "scale": {"domain": [0, 100], "range": ["#ffffff", "#000000"], "interpolate": "rgb"}, "legend": null}}},
      {"data": {"name": "steps"}, "transform": [{"filter": "datum.p === 'F'"}], "mark": {"type": "area", "interpolate": "step-after", "color": "white"}, "encoding": {"x": {"field": "x", "type": "quantitative"}, "y": {"field": "y", "type": "quantitative"}, "y2": {"datum": 5.04}}},
      {"data": {"name": "steps"}, "transform": [{"filter": "datum.p === 'F'"}], "mark": {"type": "line", "interpolate": "step-after", "color": "black", "strokeWidth": 1.8, "clip": false}, "encoding": {"x": {"field": "x", "type": "quantitative"}, "y": {"field": "y", "type": "quantitative"}}},
      {"data": {"name": "panels"}, "transform": [{"filter": "datum.p === 'F'"}], "mark": {"type": "rule", "color": "black", "strokeWidth": 1.5, "strokeDash": [9, 5]}, "encoding": {"y": {"field": "thr", "type": "quantitative"}}},
      {"data": {"name": "panels"}, "transform": [{"filter": "datum.p === 'F'"}], "mark": {"type": "text", "align": "right", "baseline": "alphabetic", "fontSize": 26, "fontWeight": "bold", "font": "Liberation Sans", "dx": -7, "color": "black"}, "encoding": {"x": {"datum": 267.2, "type": "quantitative"}, "y": {"datum": 4.3, "type": "quantitative"}, "text": {"field": "trait"}}}
    ]}
  ]
}
